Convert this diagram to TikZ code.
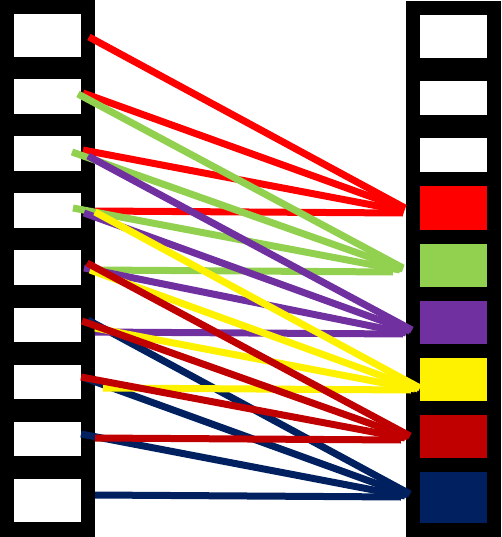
\documentclass[tikz,border=0pt]{standalone}
\usetikzlibrary{calc}
\definecolor{lgreen}{HTML}{92D050}
\definecolor{lpurple}{HTML}{7030A0}
\definecolor{dred}{HTML}{C00000}
\definecolor{dnavy}{HTML}{002060}
\begin{document}
\begin{tikzpicture}[x=1pt,y=-1pt,
    slot/.style={fill=white, inner sep=0pt, outer sep=0pt, minimum width=67pt},
    link/.style={line width=7pt}]
      \useasboundingbox (0,0) rectangle (501,537);
      \fill[black] (0,0) rectangle (95,537);
      \fill[black] (406,1) rectangle (501,537);
      \node[slot, minimum height=43pt] (l1) at (47.5,35.5) {};
      \node[slot, minimum height=35pt] (l2) at (47.5,96.5) {};
      \node[slot, minimum height=35pt] (l3) at (47.5,153.5) {};
      \node[slot, minimum height=35pt] (l4) at (47.5,210.5) {};
      \node[slot, minimum height=35pt] (l5) at (47.5,267.5) {};
      \node[slot, minimum height=34pt] (l6) at (47.5,325) {};
      \node[slot, minimum height=34pt] (l7) at (47.5,382) {};
      \node[slot, minimum height=34pt] (l8) at (47.5,439) {};
      \node[slot, minimum height=43pt] (l9) at (47.5,500.5) {};
      \node[slot, minimum height=43pt] (r1) at (453.5,36.5) {};
      \node[slot, minimum height=34pt] (r2) at (453.5,98) {};
      \node[slot, minimum height=34pt] (r3) at (453.5,155) {};
      \node[slot, minimum height=44pt, fill=red] (r4) at (453.5,208) {};
      \node[slot, minimum height=43pt, fill=lgreen] (r5) at (453.5,265.5) {};
      \node[slot, minimum height=43pt, fill=lpurple] (r6) at (453.5,322.5) {};
      \node[slot, minimum height=43pt, fill=yellow] (r7) at (453.5,379.5) {};
      \node[slot, minimum height=43pt, fill=dred] (r8) at (453.5,436.5) {};
      \node[slot, minimum height=51pt, fill=dnavy] (r9) at (453.5,497.5) {};
      \draw[link, dnavy] ($(l6.east)+(7,-5)$) -- ($(r9.west)+(-10,-3.5)$);
      \draw[link, dnavy] ($(l7.east)+(1,-5)$) -- ($(r9.west)+(-12,-2.5)$);
      \draw[link, dnavy] ($(l8.east)+(0,-5)$) -- ($(r9.west)+(-15,-1.5)$);
      \draw[link, dnavy] ($(l9.east)+(14,-5.5)$) -- ($(r9.west)+(-19,-0.5)$);
      \draw[link, red] ($(l1.east)+(8,1.5)$) -- ($(r4.west)+(-15,0)$);
      \draw[link, red] ($(l2.east)+(2,-3.5)$) -- ($(r4.west)+(-15,1)$);
      \draw[link, red] ($(l3.east)+(2,-3.5)$) -- ($(r4.west)+(-16,3)$);
      \draw[link, red] ($(l4.east)+(14,0.5)$) -- ($(r4.west)+(-17,5)$);
      \draw[link, lgreen] ($(l2.east)+(-3,-2.5)$) -- ($(r5.west)+(-17,2.5)$);
      \draw[link, lgreen] ($(l3.east)+(-9,-1.5)$) -- ($(r5.west)+(-17,3.5)$);
      \draw[link, lgreen] ($(l4.east)+(-8,-2.5)$) -- ($(r5.west)+(-20,4.5)$);
      \draw[link, lgreen] ($(l5.east)+(14,2.5)$) -- ($(r5.west)+(-27,6.5)$);
      \draw[link, lpurple] ($(l3.east)+(7,2.5)$) -- ($(r6.west)+(-8,7.5)$);
      \draw[link, lpurple] ($(l4.east)+(3,2.5)$) -- ($(r6.west)+(-10,8.5)$);
      \draw[link, lpurple] ($(l5.east)+(3,0.5)$) -- ($(r6.west)+(-14,10.5)$);
      \draw[link, lpurple] ($(l6.east)+(14,7)$) -- ($(r6.west)+(-17,11.5)$);
      \draw[link, yellow] ($(l4.east)+(14,1.5)$) -- ($(r7.west)+(0,8.5)$);
      \draw[link, yellow] ($(l5.east)+(9,2.5)$) -- ($(r7.west)+(-2,9.5)$);
      \draw[link, yellow] ($(l6.east)+(14,3)$) -- ($(r7.west)+(-5,9.5)$);
      \draw[link, yellow] ($(l7.east)+(22,6)$) -- ($(r7.west)+(-9,10.5)$);
      \draw[link, dred] ($(l5.east)+(6,-4.5)$) -- ($(r8.west)+(-10,-0.5)$);
      \draw[link, dred] ($(l6.east)+(1,-4)$) -- ($(r8.west)+(-12,0.5)$);
      \draw[link, dred] ($(l7.east)+(0,-5)$) -- ($(r8.west)+(-15,1.5)$);
      \draw[link, dred] ($(l8.east)+(14,-1)$) -- ($(r8.west)+(-19,3.5)$);
    \end{tikzpicture}
\end{document}
